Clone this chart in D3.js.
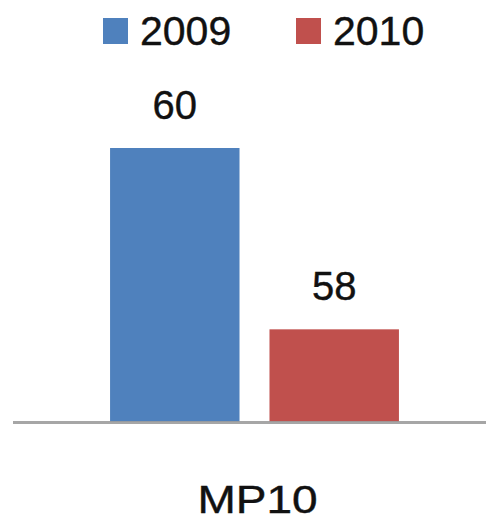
<!doctype html>
<html>
<head>
  <script src="https://d3js.org/d3.v7.min.js"></script>
  <style>
  body { margin: 0; background: #fff; }
  svg { font-family: "Liberation Sans", Arial, sans-serif; }
  text { fill: #111; stroke: #111; stroke-width: 0.4px; }
  </style>
</head>
<body>
  <script>
    // chart data
    var categories = ["MP10"];
    var years = ["2009", "2010"];
    var values = [60, 58];
    var colours = ["#4F81BD", "#C0504D"];

    var width = 486,
        height = 525;

    var svg = d3.select("body").append("svg")
        .attr("width", width)
        .attr("height", height);

    var x0 = d3.scaleBand()
        .domain(categories)
        .range([13, 496])
        .paddingOuter(0.336);

    var x1 = d3.scaleBand()
        .domain(years)
        .range([0, x0.bandwidth()])
        .paddingInner(0.188);

    // axis doesn't start at zero in the original
    var y = d3.scaleLinear()
        .domain([57, 60])
        .range([420, 148]);

    var g = svg.append("g")
        .attr("transform", "translate(" + x0(categories[0]) + ",0)");

    g.selectAll("rect.bar")
        .data(values)
      .enter().append("rect")
        .attr("class", "bar")
        .attr("x", function(d, i){ return x1(years[i]); })
        .attr("y", function(d){ return y(d); })
        .attr("width", x1.bandwidth())
        .attr("height", function(d){ return 422 - y(d); })
        .style("fill", function(d, i){ return colours[i]; });

    g.selectAll("text.val")
        .data(values)
      .enter().append("text")
        .attr("class", "val")
        .attr("x", function(d, i){ return x1(years[i]) + x1.bandwidth() / 2; })
        .attr("y", function(d){ return y(d) - 29; })
        .attr("text-anchor", "middle")
        .style("font-size", "40px")
        .text(function(d){ return d; });

    // baseline
    svg.append("line")
        .attr("x1", 13)
        .attr("x2", width)
        .attr("y1", 422.5)
        .attr("y2", 422.5)
        .style("stroke", "#9c9c9c")
        .style("stroke-opacity", 0.9)
        .style("stroke-width", 3);

    // category label (the original font is wider, so stretch it a bit)
    svg.append("text")
        .attr("transform", "translate(" + (x0(categories[0]) + x0.bandwidth() / 2 + 3) + ",513) scale(1.18,1)")
        .attr("text-anchor", "middle")
        .style("font-size", "39px")
        .text(categories[0]);

    // legend
    var legendX = [103, 296];
    var legend = svg.selectAll("g.legend")
        .data(years)
      .enter().append("g")
        .attr("class", "legend")
        .attr("transform", function(d, i){ return "translate(" + legendX[i] + ",18)"; });

    legend.append("rect")
        .attr("width", 25)
        .attr("height", 26)
        .style("fill", function(d, i){ return colours[i]; });

    legend.append("text")
        .attr("x", 37)
        .attr("y", 27)
        .style("font-size", "41px")
        .text(function(d){ return d; });
  </script>
</body>
</html>
